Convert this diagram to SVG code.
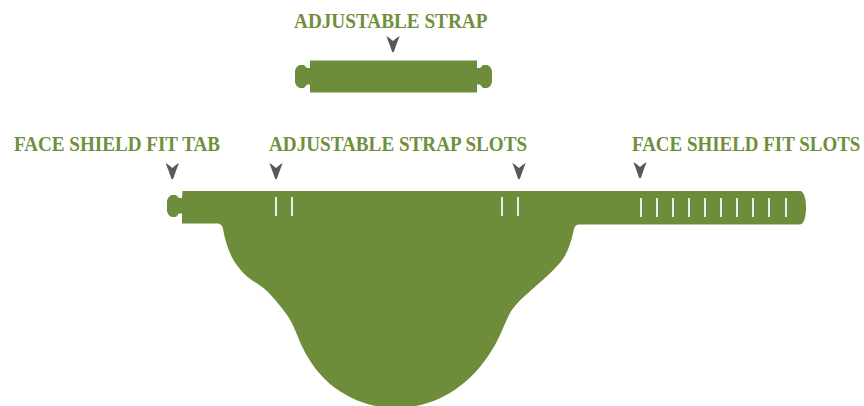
<svg xmlns="http://www.w3.org/2000/svg" width="864" height="406" viewBox="0 0 864 406">
<style>
.l{font-family:"Liberation Serif","Times New Roman",serif;font-weight:bold;font-size:20.5px;fill:#6f8f3c}
.g{fill:#6d8d3b}
.s{stroke:#fff;stroke-width:1.7;fill:none}
</style>
<defs>
<path id="a" d="M-6.700,-8 Q-3,-6 0,-3 Q3,-6 6.700,-8 Q3.500,0 1,7.500 L0,8.500 L-1,7.500 Q-3.500,0 -6.700,-8 Z" fill="#58595b"/>
</defs>
<rect width="864" height="406" fill="#fff"/>
<g id="strap">
<path class="g" d="M310,60.500 H477 V68 H480 L483,65 H487 Q491,66 492,71 V82 Q491,87 487,88 H483 L480,84.500 H477 V92.500 H310 V84.500 H307 L304,88 H300 Q296,87 295,82 V71 Q296,66 300,65 H304 L307,68 H310 Z"/>
</g>
<g id="shield">
<path class="g" d="M182.500,191 H800 C804,191 806,199 806,208 C806,216 804,224.500 800,224.500 H579 Q575,224.500 574,229 C571,243 567,256 558,265 C550,274 538,284 527,294 C519,301 513,307 509,315 C504,325 500,336 495,345 C487,359 475,375 460,386 C443,400 418,408 395,408 C370,408 347,398 330,384 C316,372 306,356 300,342 C296,332 293,324 287,315 C282,308 274,298 268,292 C262,286 254,282 249,278 C238,269 231,258 227,245 C225,239 224,234 223,229 Q222,224 218,223.500 H182 V213.500 H179 L176,217 H172 Q168,216 167,211 V201 Q168,196 172,195 H176 L179,198 H182 Z"/>
<g class="s">
<path d="M276,197V216M292,197V216M502,197V216M518,197V216"/>
<path d="M641,198V217M657,198V217M673,198V217M689,198V217M705,198V217M721,198V217M737,198V217M753,198V217M769,198V217M786,198V217"/>
</g>
</g>
<g id="labels">
<text class="l" transform="translate(294,28) scale(.938,1)">ADJUSTABLE STRAP</text>
<text class="l" transform="translate(14,151) scale(.932,1)">FACE SHIELD FIT TAB</text>
<text class="l" transform="translate(269,151) scale(.934,1)">ADJUSTABLE STRAP SLOTS</text>
<text class="l" transform="translate(632,151) scale(.925,1)">FACE SHIELD FIT SLOTS</text>
</g>
<g id="connectors">
<use href="#a" x="393" y="44"/>
<use href="#a" x="172.300" y="171"/>
<use href="#a" x="276" y="171"/>
<use href="#a" x="519" y="171"/>
<use href="#a" x="640" y="170"/>
</g>
</svg>
